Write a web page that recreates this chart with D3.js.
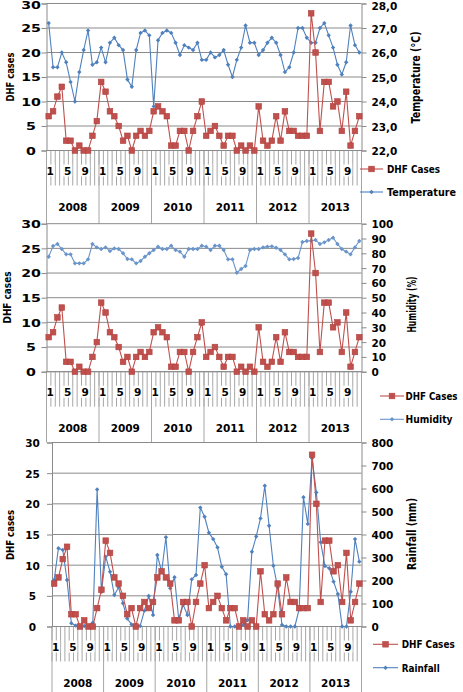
<!DOCTYPE html>
<html><head><meta charset="utf-8">
<script src="https://cdn.jsdelivr.net/npm/d3@7"></script>
<style>
body{margin:0;background:#fff}
svg{display:block}
text{font-family:"DejaVu Sans",sans-serif;font-weight:bold;fill:#000}
</style>
</head><body>
<svg id="chart" width="463" height="692"></svg>
<script>
// ---------------- DATA ----------------
const years = ["2008","2009","2010","2011","2012","2013"];
const months = [1,2,3,4,5,6,7,8,9,10,11,12];
const monthLabelsShown = [1,5,9];

const dhfCases = [
  7,8,11,13,2,2,0,1,0,0,3,6,
  14,12,8,7,5,2,3,0,3,4,3,4,
  8,9,8,7,1,1,4,4,0,4,7,10,
  3,4,5,3,1,3,3,0,1,0,1,0,
  9,2,1,2,7,2,8,4,4,3,3,3,
  28,20,4,14,14,9,10,4,12,1,4,7
];
const temperature = [
  27.2,25.4,25.4,26.0,25.6,24.8,24.0,25.2,26.1,26.9,25.5,25.6,
  26.2,25.6,26.4,26.6,26.3,26.1,24.9,24.6,26.1,26.8,26.9,26.7,
  23.8,26.5,26.8,26.9,26.8,26.4,25.9,26.3,26.2,26.1,26.4,25.7,
  25.7,26.0,25.8,25.9,26.1,25.5,25.0,25.7,26.2,27.1,26.4,26.4,
  25.9,26.1,26.4,26.6,26.4,25.9,25.2,25.4,26.0,27.0,27.0,26.6,
  26.4,26.4,27.0,27.2,26.7,26.2,25.5,25.1,25.6,27.1,26.3,26.0
];
const humidity = [
  77.7,84.9,86.3,82.9,79.3,79.3,73.2,73.2,73.2,75.9,86.3,84.0,
  82.9,84.0,81.5,83.3,82.9,80.0,76.1,75.9,73.2,74.8,77.7,80.0,
  82.2,84.5,82.9,82.9,85.1,82.2,81.1,77.7,82.9,82.9,82.9,85.1,
  84.5,82.2,85.1,85.1,82.2,75.9,75.9,66.9,69.4,71.4,82.2,82.9,
  82.9,84.0,84.5,84.7,83.8,82.2,79.3,75.9,76.1,76.8,87.6,88.3,
  88.5,89.0,86.3,87.4,89.0,90.5,86.3,82.9,81.1,79.3,84.0,88.3
];
const rainfall = [
  202,340,333,202,14,4,2,2,2,17,596,151,
  304,238,137,170,101,35,9,4,2,69,133,50,
  311,238,388,166,214,28,95,50,205,224,517,477,
  408,380,344,260,227,0,0,0,7,28,325,391,
  470,612,438,264,169,7,0,0,0,75,562,446,
  731,583,366,263,253,195,141,0,0,151,380,282
];
const leftTicks = [0,5,10,15,20,25,30];
const tempTicks = [22,23,24,25,26,27,28];
const humTicks = [0,10,20,30,40,50,60,70,80,90,100];
const rainTicks = [0,100,200,300,400,500,600,700,800];

const seriesNames = {dhf:"DHF Cases", temp:"Temperature", hum:"Humidity", rain:"Rainfall"};
const leftTitle = "DHF cases";
const rightTitles = ["Temperature (°C)", "Humidity (%)", "Rainfall (mm)"];

// ---------------- LAYOUT ----------------
const categories = [];
years.forEach(y => months.forEach(m => categories.push({key: y + "-" + m, year: y, month: m})));
const RED = "#C0504D", BLUE = "#4F81BD", GRID = "#8a8a8a", SEP = "#a6a6a6";

const panels = [
  {values: temperature, name: seriesNames.temp, rTitle: rightTitles[0],
   rDomain: [22,28], rTicks: tempTicks, rFmt: d => d.toFixed(1).replace(".", ","),
   x0: 46.5, x1: 361.5, top: 3.5, bot: 150.5, sepEnd: 223.7, topNudge: 1.5,
   lLabelCx: 31, lStretch: 1.35, lTitleX: 10, lTitleY: 77, lTitleLen: 49,
   rTitleX: 415.5, rTitleY: 77.5, rTitleLen: 92, rTitleSize: 11.5,
   legX: 360, legLine: 23, legTextX: 387, legY: [169,192], legLen: [53,69], legSize: 10.5, blue: BLUE},
  {values: humidity, name: seriesNames.hum, rTitle: rightTitles[1],
   rDomain: [0,100], rTicks: humTicks, rFmt: d => String(d),
   x0: 46.5, x1: 361.5, top: 223.7, bot: 371.7, sepEnd: 442.5, topNudge: 0,
   lLabelCx: 31, lStretch: 1.35, lTitleX: 7, lTitleY: 297.5, lTitleLen: 52,
   rTitleX: 411, rTitleY: 304.5, rTitleLen: 56, rTitleSize: 12.5,
   legX: 380, legLine: 24, legTextX: 405.5, legY: [396,419.3], legLen: [52,47], legSize: 9.8, blue: "#6a95cb"},
  {values: rainfall, name: seriesNames.rain, rTitle: rightTitles[2],
   rDomain: [0,800], rTicks: rainTicks, rFmt: d => String(d),
   x0: 52, x1: 361.5, top: 442.5, bot: 626.5, sepEnd: 692, topNudge: 0,
   lLabelCx: 32.5, lStretch: 1, lTitleX: 10, lTitleY: 535, lTitleLen: 50,
   rTitleX: 411.7, rTitleY: 534, rTitleLen: 72, rTitleSize: 11.5,
   legX: 373, legLine: 25, legTextX: 401.7, legY: [644.3,667.7], legLen: [53,38], legSize: 10.5, blue: BLUE}
];

const svg = d3.select("#chart");

function diamond(g, cx, cy, color, r) {
  g.append("path").attr("d", `M${cx},${cy-r}L${cx+r},${cy}L${cx},${cy+r}L${cx-r},${cy}Z`)
    .attr("fill", color);
}
function square(g, cx, cy, color) {
  g.append("rect").attr("x", cx-2.8).attr("y", cy-2.8).attr("width", 5.6).attr("height", 5.6)
    .attr("fill", color).attr("stroke", "#b3403d").attr("stroke-width", 0.6);
}

panels.forEach(p => {
  const g = svg.append("g");
  const x = d3.scaleBand().domain(categories.map(c => c.key)).range([p.x0, p.x1]).paddingInner(0).paddingOuter(0);
  const bw = x.bandwidth();
  const cx = k => x(k) + bw / 2;
  const yL = d3.scaleLinear().domain([0,30]).range([p.bot, p.top]);
  const yR = d3.scaleLinear().domain(p.rDomain).range([p.bot, p.top]);

  // gridlines
  g.append("g").selectAll("line").data(leftTicks).join("line")
    .attr("x1", p.x0).attr("x2", p.x1).attr("y1", d => yL(d)).attr("y2", d => yL(d))
    .attr("stroke", GRID).attr("stroke-width", 1);

  // category tick lines (every band boundary)
  const bounds = categories.map(c => x(c.key)).concat([p.x1]);
  g.append("g").selectAll("line").data(bounds).join("line")
    .attr("x1", d => d).attr("x2", d => d).attr("y1", p.bot).attr("y2", p.bot + 35)
    .attr("stroke", SEP).attr("stroke-width", 1);

  // month labels
  const ml = categories.filter(c => monthLabelsShown.includes(c.month));
  const mlG = g.append("g");
  mlG.selectAll("rect").data(ml).join("rect")
    .attr("x", d => cx(d.key) + 1.5 - 4.5).attr("y", p.bot + 14).attr("width", 9).attr("height", 12)
    .attr("fill", "#fff");
  mlG.selectAll("text").data(ml).join("text")
    .attr("x", d => cx(d.key) + 1.5).attr("y", p.bot + 20)
    .attr("text-anchor", "middle").attr("dominant-baseline", "central")
    .attr("font-size", 10.5).text(d => d.month);

  // year separators and labels
  const yStarts = years.map(y => x(y + "-1")).concat([p.x1]);
  g.append("g").selectAll("line").data(yStarts).join("line")
    .attr("x1", d => d).attr("x2", d => d).attr("y1", p.bot).attr("y2", p.sepEnd)
    .attr("stroke", SEP).attr("stroke-width", 1);
  g.append("g").selectAll("text").data(years).join("text")
    .attr("x", y => (x(y + "-1") + x(y + "-12") + bw) / 2).attr("y", p.bot + 56.5)
    .attr("text-anchor", "middle").attr("dominant-baseline", "central")
    .attr("font-size", 10.5).text(y => y);

  // x axis line
  g.append("line").attr("x1", p.x0).attr("x2", p.x1).attr("y1", p.bot).attr("y2", p.bot)
    .attr("stroke", GRID);

  // left axis
  const la = g.append("g").attr("transform", `translate(${p.x0},0)`)
    .call(d3.axisLeft(yL).tickValues(leftTicks).tickSize(5).tickFormat(d3.format("d")));
  la.select(".domain").attr("stroke", GRID);
  la.selectAll(".tick line").attr("stroke", GRID);
  la.selectAll(".tick text").attr("x", null).attr("dy", null)
    .attr("text-anchor", "middle").attr("dominant-baseline", "central")
    .attr("font-size", 10.5).attr("font-family", null)
    .attr("transform", d => `translate(${p.lLabelCx - p.x0},${d === 30 ? p.topNudge : 0}) scale(${p.lStretch},1)`);

  // right axis
  const ra = g.append("g").attr("transform", `translate(${p.x1},0)`)
    .call(d3.axisRight(yR).tickValues(p.rTicks).tickSize(5).tickPadding(5).tickFormat(p.rFmt));
  ra.select(".domain").attr("stroke", GRID);
  ra.selectAll(".tick line").attr("stroke", GRID);
  ra.selectAll(".tick text").attr("dy", null).attr("dominant-baseline", "central")
    .attr("font-size", 10.5).attr("font-family", null)
    .attr("transform", d => `translate(0,${d === p.rDomain[1] ? p.topNudge : 0})`);

  // axis titles
  g.append("text").attr("transform", `translate(${p.lTitleX},${p.lTitleY}) rotate(-90)`)
    .attr("text-anchor", "middle").attr("dominant-baseline", "central")
    .attr("font-size", 11).attr("textLength", p.lTitleLen).attr("lengthAdjust", "spacingAndGlyphs")
    .text(leftTitle);
  g.append("text").attr("transform", `translate(${p.rTitleX},${p.rTitleY}) rotate(-90)`)
    .attr("text-anchor", "middle").attr("dominant-baseline", "central")
    .attr("font-size", p.rTitleSize).attr("textLength", p.rTitleLen).attr("lengthAdjust", "spacingAndGlyphs")
    .text(p.rTitle);

  // blue series
  const bl = d3.line().x((d,i) => cx(categories[i].key)).y(d => yR(d));
  g.append("path").datum(p.values).attr("d", bl).attr("fill", "none")
    .attr("stroke", p.blue).attr("stroke-width", 1.1);
  const bm = g.append("g");
  p.values.forEach((v,i) => diamond(bm, cx(categories[i].key), yR(v), p.blue, 2.2));

  // red series
  const rl = d3.line().x((d,i) => cx(categories[i].key)).y(d => yL(d));
  g.append("path").datum(dhfCases).attr("d", rl).attr("fill", "none")
    .attr("stroke", RED).attr("stroke-width", 1.1);
  const rm = g.append("g");
  dhfCases.forEach((v,i) => square(rm, cx(categories[i].key), yL(v), RED));

  // legend
  const lg = g.append("g");
  const items = [{n: seriesNames.dhf, c: RED, t: "sq"}, {n: p.name, c: p.blue, t: "di"}];
  items.forEach((it, k) => {
    const yy = p.legY[k];
    lg.append("line").attr("x1", p.legX).attr("x2", p.legX + p.legLine).attr("y1", yy).attr("y2", yy)
      .attr("stroke", it.c).attr("stroke-width", 1.1);
    if (it.t === "sq") square(lg, p.legX + p.legLine / 2, yy, it.c);
    else diamond(lg, p.legX + p.legLine / 2, yy, it.c, 2.2);
    lg.append("text").attr("x", p.legTextX).attr("y", yy).attr("dominant-baseline", "central")
      .attr("font-family", "'DejaVu Sans Condensed','DejaVu Sans',sans-serif")
      .attr("font-size", p.legSize).attr("textLength", p.legLen[k]).attr("lengthAdjust", "spacingAndGlyphs")
      .text(it.n);
  });
});
</script>
</body></html>
